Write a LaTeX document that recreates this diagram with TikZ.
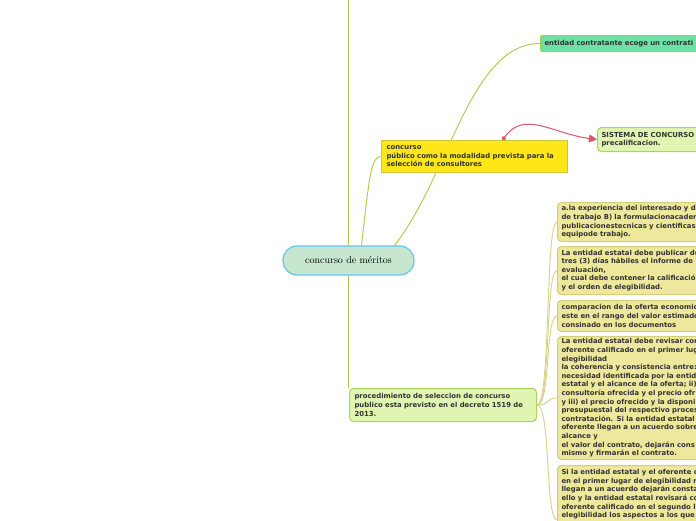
\documentclass[tikz,border=0pt]{standalone}
\usepackage{fontspec}
\newfontfamily\boxfont{DejaVu Sans}
\usetikzlibrary{arrows.meta}
\pgfdeclarelayer{bgzero}
\pgfdeclarelayer{background}
\pgfsetlayers{bgzero,background,main}
\definecolor{olive}{HTML}{AAC94F}
\definecolor{khline}{HTML}{D6D28A}
\definecolor{khfill}{HTML}{EEE89C}
\definecolor{khdraw}{HTML}{D3CF7C}
\definecolor{lgfill}{HTML}{E0F5B1}
\definecolor{lgdraw}{HTML}{ABD35E}
\definecolor{yelfill}{HTML}{FFE619}
\definecolor{yeldraw}{HTML}{C8C93E}
\definecolor{mint}{HTML}{6DE0A5}
\definecolor{cfill}{HTML}{C6E6CF}
\definecolor{cdraw}{HTML}{66C3EC}
\definecolor{redl}{HTML}{D9566A}
\definecolor{txt}{HTML}{333333}
\tikzset{
  mm/.style={font=\boxfont\bfseries\fontsize{6.9}{8.6}\selectfont, text=txt, align=left,
    anchor=north west, inner xsep=4pt, inner ysep=1.5pt, line width=1pt},
  khbox/.style={mm, fill=khfill, draw=khdraw, rounded corners=4pt, text width=220pt},
  lgbox/.style={mm, fill=lgfill, draw=lgdraw, rounded corners=4pt},
  oline/.style={draw=olive, line width=0.9pt},
  kline/.style={draw=khline, line width=0.9pt},
}
\begin{document}
\begin{tikzpicture}[x=1pt,y=-1pt]
\useasboundingbox (0,0) rectangle (696,520);
\clip (0,0) rectangle (696,520);
\begin{pgfonlayer}{bgzero}
\fill[white] (0,0) rectangle (696,520);
\end{pgfonlayer}

\node[draw=cdraw, fill=cfill, line width=1.2pt, rounded corners=14pt, minimum width=131pt,
  minimum height=29pt, inner sep=0pt, font=\fontsize{10}{12}\selectfont, text=black]
  (central) at (348.5,260.5) {concurso de méritos};

\node[mm, fill=yelfill, draw=yeldraw, text width=176pt, minimum height=32pt, inner xsep=5pt] (concurso) at (381,140)
  {concurso\\público como la modalidad prevista para la\\selección de consultores};

\node[mm, fill=mint, draw=olive, rounded corners=2pt, text width=220pt, minimum height=16pt, inner ysep=1pt] (entidad) at (540,35)
  {entidad contratante ecoge un contrati};

\node[lgbox, text width=220pt, minimum height=24pt] (sistema) at (597,127)
  {SISTEMA DE CONCURSO\\precalificacion.};

\node[lgbox, text width=177pt, minimum height=33pt, inner xsep=5pt] (proc) at (349,388)
  {procedimiento de seleccion de concurso\\publico esta previsto en el decreto 1519 de\\2013.};

\node[khbox, minimum height=39pt] (b1) at (557,202)
  {a.la experiencia del interesado y d\\de trabajo B) la formulacionacader\\publicacionestecnicas y cientificas\\equipode trabajo.};
\node[khbox, minimum height=48pt] (b2) at (557,246)
  {La entidad estatal debe publicar du\\tres (3) días hábiles el informe de\\evaluación,\\el cual debe contener la calificació\\y el orden de elegibilidad.};
\node[khbox, minimum height=31pt] (b3) at (557,300)
  {comparacion de la oferta economic\\este en el rango del valor estimado\\consinado en los documentos};
\node[khbox, minimum height=123pt] (b4) at (557,336)
  {La entidad estatal debe revisar con\\oferente calificado en el primer lug\\elegibilidad\\la coherencia y consistencia entre:\\necesidad identificada por la entid\\estatal y el alcance de la oferta; ii)\\consultoría ofrecida y el precio ofr\\y iii) el precio ofrecido y la disponi\\presupuestal del respectivo proces\\contratación. Si la entidad estatal\\oferente llegan a un acuerdo sobre\\alcance y\\el valor del contrato, dejarán cons\\mismo y firmarán el contrato.};
\node[khbox, inner ysep=4pt] (b5) at (557,465)
  {Si la entidad estatal y el oferente c\\en el primer lugar de elegibilidad n\\llegan a un acuerdo dejarán consta\\ello y la entidad estatal revisará co\\oferente calificado en el segundo l\\elegibilidad los aspectos a los que\\\rule{0pt}{50pt}};

\coordinate (topend) at (348.5,0);

\begin{pgfonlayer}{background}
% trunk
\draw[oline] (central.north) -- (topend);
\draw[oline] (central.south) -- (central.south |- proc.north);
\draw[oline] ([xshift=13pt]central.north) .. controls +(8,-70) and +(-10,0) .. (concurso.west);
\draw[oline] ([xshift=46pt]central.north) .. controls +(55,-70) and +(-70,0) .. (entidad.west);
% procedure branches
\foreach \b in {b1,b2,b3,b4,b5}
  \draw[kline] (proc.east) .. controls +(14,0) and +(-12,0) .. (\b.west);
% red relation
\draw[draw=redl, line width=1pt, {Circle[length=4.5pt]}-{Triangle[length=8pt,width=8pt]}]
  ([xshift=28pt]concurso.north) .. controls +(22,-30) and +(-45,-6) .. (sistema.west);
\end{pgfonlayer}
\end{tikzpicture}
\end{document}
